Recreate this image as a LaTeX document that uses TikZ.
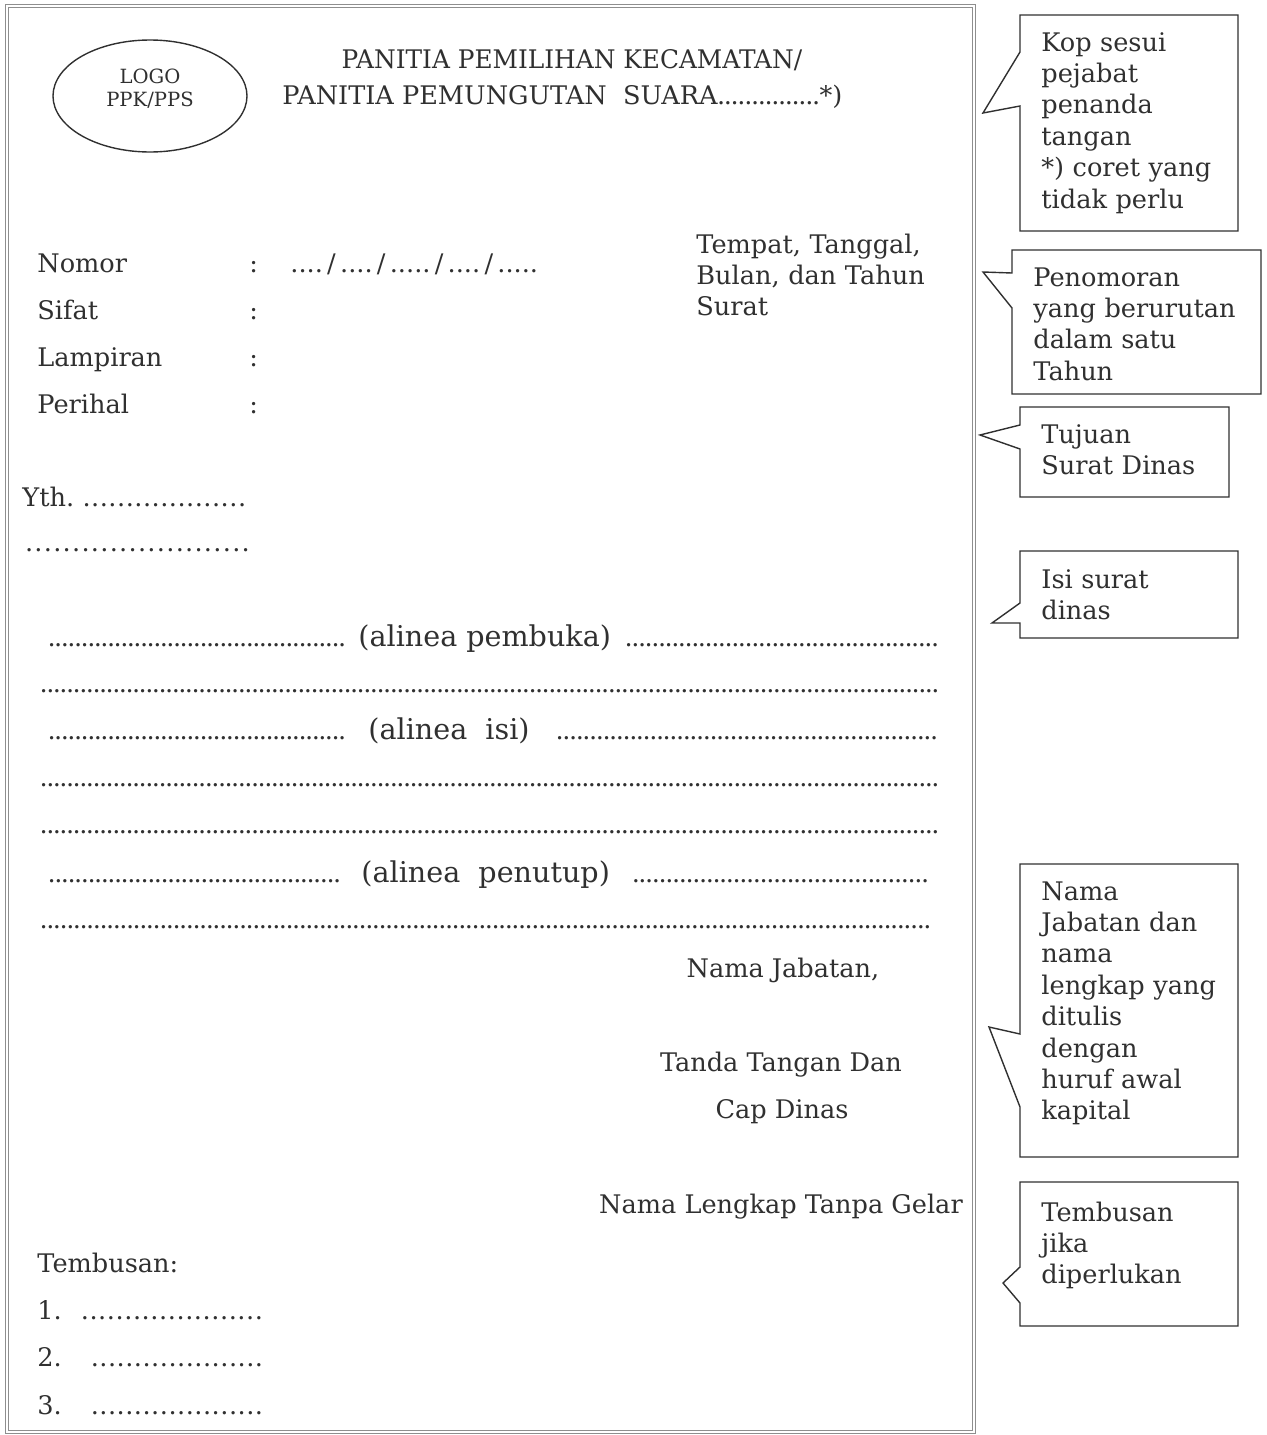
\documentclass[tikz,border=0pt]{standalone}
\usepackage{fontspec}
\setmainfont{DejaVu Serif}
\usetikzlibrary{shapes.geometric}

\definecolor{ink}{HTML}{303030}
\definecolor{frame}{HTML}{8E8E8E}

% row of dots of a given width
\newcommand\titik[2][3.3pt]{\hbox to #2{\xleaders\hbox to #1{\hss.\hss}\hfill}}

\tikzset{
  txt/.style={inner sep=0pt, anchor=base west, text=ink, font=\fontsize{12.8}{15.7}\selectfont},
  mid/.style={txt, anchor=base},
  note/.style={txt, text width=130pt, align=left},
  alinea/.style={txt, font=\fontsize{14.3}{17}\selectfont},
  balon/.style={draw=ink, line width=0.7pt, line join=miter},
}

\begin{document}
\begin{tikzpicture}[x=0.5pt, y=-0.5pt]
  \useasboundingbox (0,0) rectangle (1267,1435);

  % page
  \draw[frame, line width=0.5pt] (5,4) rectangle (975,1433);
  \draw[frame, line width=0.5pt] (8,7) rectangle (972,1430);

  % kop surat
  \node[draw=ink, line width=0.7pt, ellipse, minimum width=97pt, minimum height=56pt] (logo) at (150,96) {};
  \node[mid, font=\fontsize{9.8}{11}\selectfont] (logo1) at (150,83) {LOGO};
  \node[mid, font=\fontsize{9.8}{11}\selectfont] (logo2) at (150,106) {PPK/PPS};
  \node[mid] (kop1) at (572,68) {\scalebox{0.97}[1]{PANITIA PEMILIHAN KECAMATAN/}};
  \node[txt] (kop2) at (282,104) {PANITIA PEMUNGUTAN\ \ SUARA\titik[3.2pt]{51pt}*)};

  % nomor, sifat, lampiran, perihal
  \node[txt] (nomor) at (37,272) {Nomor};
  \node[txt] (sifat) at (37,319) {Sifat};
  \node[txt] (lampiran) at (37,366) {Lampiran};
  \node[txt] (perihal) at (37,413) {Perihal};
  \foreach \y/\n in {272/a, 319/b, 366/c, 413/d}
    \node[txt] (colon\n) at (249,\y) {:};
  \node[txt] (nomorisi) at (290,272) {....\,/\,....\,/\,.....\,/\,....\,/\,.....};

  \node[note] (tempat) at (696,253) {Tempat, Tanggal,\\Bulan, dan Tahun\\Surat};

  % tujuan
  \node[txt] (yth) at (22,506) {Yth.\ \titik[4.3pt]{82pt}};
  \node[txt] (yth2) at (24,551) {\titik[4.7pt]{113pt}};

  % isi surat
  \node[txt] (buka1) at (48,646) {\titik{148.5pt}};
  \node[alinea] (buka) at (358,646) {(alinea pembuka)};
  \node[txt] (buka2) at (625,646) {\titik{156.5pt}};
  \node[txt] (baris1) at (40,692) {\titik{449pt}};
  \node[txt] (isi1) at (48,739) {\titik{148.5pt}};
  \node[alinea] (isi) at (368,739) {(alinea\ \ isi)};
  \node[txt] (isi2) at (556,739) {\titik{190.5pt}};
  \node[txt] (baris2) at (40,786) {\titik{449pt}};
  \node[txt] (baris3) at (40,833) {\titik{449pt}};
  \node[txt] (tutup1) at (48,882) {\titik{146pt}};
  \node[alinea] (tutup) at (361,882) {(alinea\ \ penutup)};
  \node[txt] (tutup2) at (632,882) {\titik{148pt}};
  \node[txt] (baris4) at (40,928) {\titik{445pt}};

  % tanda tangan
  \node[mid] (jabatan) at (783,977) {Nama Jabatan,};
  \node[mid] (ttd) at (781,1071) {Tanda Tangan Dan};
  \node[mid] (cap) at (782,1118) {Cap Dinas};
  \node[mid] (nama) at (781,1213) {Nama Lengkap Tanpa Gelar};

  % tembusan
  \node[txt] (tembusan) at (37,1272) {Tembusan:};
  \node[txt] (t1) at (37,1319) {1.};
  \node[txt] (t1dot) at (80,1319) {\titik[4.2pt]{91.5pt}};
  \node[txt] (t2) at (37,1366) {2.};
  \node[txt] (t2dot) at (90,1366) {\titik[4.2pt]{86.5pt}};
  \node[txt] (t3) at (37,1414) {3.};
  \node[txt] (t3dot) at (90,1414) {\titik[4.2pt]{86.5pt}};

  % keterangan
  \draw[balon] (1020,15) -- (1238,15) -- (1238,231) -- (1020,231) -- (1020,106) -- (983,113) -- (1020,52) -- cycle;
  \draw[balon] (1012,250) -- (1261,250) -- (1261,394) -- (1012,394) -- (1012,308) -- (983,272) -- (1012,273) -- cycle;
  \draw[balon] (1020,407) -- (1229,407) -- (1229,497) -- (1020,497) -- (1020,449) -- (980,435) -- (1020,425) -- cycle;
  \draw[balon] (1020,551) -- (1238,551) -- (1238,638) -- (1020,638) -- (1020,623) -- (992,623) -- (1020,603) -- cycle;
  \draw[balon] (1020,864) -- (1238,864) -- (1238,1157) -- (1020,1157) -- (1020,1107) -- (989,1027) -- (1020,1034) -- cycle;
  \draw[balon] (1020,1182) -- (1238,1182) -- (1238,1326) -- (1020,1326) -- (1020,1303) -- (1003,1283) -- (1020,1267) -- cycle;

  \node[note] (ketkop) at (1041,51) {Kop sesui\\pejabat\\penanda\\tangan\\\mbox{*)} coret yang\\tidak perlu};
  \node[note] (ketnomor) at (1033,286) {Penomoran\\yang berurutan\\dalam satu\\Tahun};
  \node[note] (kettujuan) at (1041,443) {Tujuan\\Surat Dinas};
  \node[note] (ketisi) at (1041,588) {Isi surat\\dinas};
  \node[note] (ketnama) at (1041,900) {Nama\\Jabatan dan\\nama\\lengkap yang\\ditulis\\dengan\\huruf awal\\kapital};
  \node[note] (kettembusan) at (1041,1221) {Tembusan\\jika\\diperlukan};
\end{tikzpicture}
\end{document}
